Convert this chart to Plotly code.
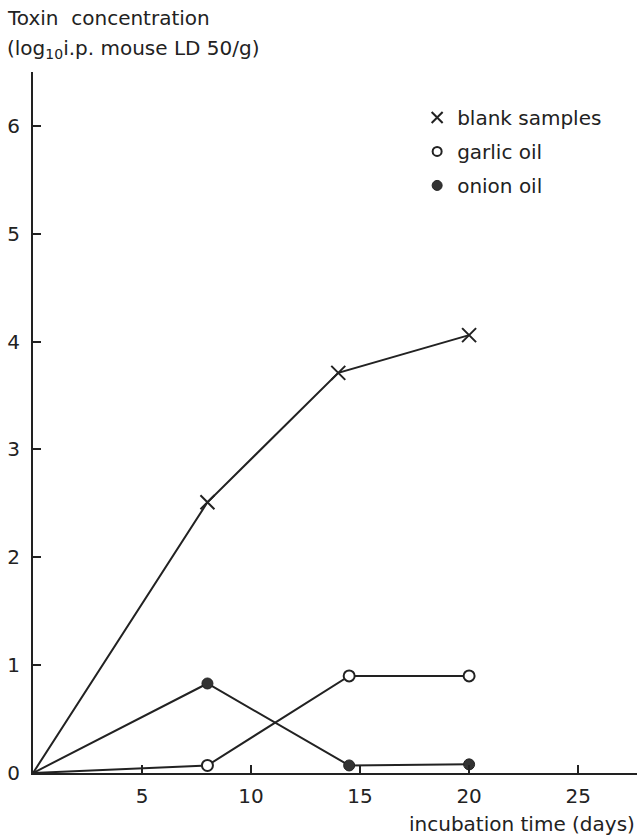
import plotly.graph_objects as go

# Data
blank_days = [0, 8, 14, 20]
blank_tox = [0.0, 2.51, 3.71, 4.06]
garlic_days = [0, 8, 14.5, 20]
garlic_tox = [0.0, 0.07, 0.90, 0.90]
onion_days = [0, 8, 14.5, 20]
onion_tox = [0.0, 0.83, 0.07, 0.08]

x_ticks = [5, 10, 15, 20, 25]
y_ticks = [0, 1, 2, 3, 4, 5, 6]

INK = "#222222"
FONT = "DejaVu Sans"

# origin point drawn without a marker, as in the reference
def sizes(n, s):
    return [0] + [s] * (n - 1)

fig = go.Figure()

fig.add_trace(go.Scatter(x=blank_days, y=blank_tox, mode="lines+markers",
                         line=dict(color=INK, width=2),
                         marker=dict(symbol="x-thin", size=sizes(len(blank_days), 14),
                                     opacity=1, line=dict(color=INK, width=2)),
                         showlegend=False, cliponaxis=False))
fig.add_trace(go.Scatter(x=garlic_days, y=garlic_tox, mode="lines+markers",
                         line=dict(color=INK, width=2),
                         marker=dict(symbol="circle", size=sizes(len(garlic_days), 11),
                                     opacity=1, color="white", line=dict(color=INK, width=2)),
                         showlegend=False, cliponaxis=False))
fig.add_trace(go.Scatter(x=onion_days, y=onion_tox, mode="lines+markers",
                         line=dict(color=INK, width=2),
                         marker=dict(symbol="circle", size=sizes(len(onion_days), 11),
                                     opacity=1, color="#333333", line=dict(color=INK, width=1)),
                         showlegend=False, cliponaxis=False))

# legend entries (markers only)
fig.add_trace(go.Scatter(x=[None], y=[None], mode="markers", name="blank samples",
                         legendgroup="a",
                         marker=dict(symbol="x-thin", size=11, line=dict(color=INK, width=2))))
fig.add_trace(go.Scatter(x=[None], y=[None], mode="markers", name="garlic oil",
                         legendgroup="b",
                         marker=dict(symbol="circle", size=9, color="white",
                                     line=dict(color=INK, width=2))))
fig.add_trace(go.Scatter(x=[None], y=[None], mode="markers", name="onion oil",
                         legendgroup="c",
                         marker=dict(symbol="circle", size=10, color="#333333",
                                     line=dict(color=INK, width=1))))

fig.update_layout(
    width=639, height=836,
    margin=dict(l=33, r=2, t=72, b=63),
    paper_bgcolor="white", plot_bgcolor="white",
    font=dict(family=FONT, size=20, color=INK),
    legend=dict(x=0.636, y=0.963, xanchor="left", yanchor="top",
                font=dict(family=FONT, size=20, color=INK),
                traceorder="grouped", tracegroupgap=5,
                bgcolor="rgba(0,0,0,0)", itemwidth=30),
    xaxis=dict(range=[0, 27.7], tickvals=x_ticks, ticks="inside", ticklen=8,
               tickwidth=1.5, tickcolor=INK, showline=True, linecolor=INK, linewidth=2,
               showgrid=False, zeroline=False, tickfont=dict(size=20),
               automargin=False, ticklabelstandoff=4),
    yaxis=dict(range=[0, 6.5], tickvals=y_ticks, ticks="inside", ticklen=8,
               tickwidth=1.5, tickcolor=INK, showline=True, linecolor=INK, linewidth=2,
               showgrid=False, zeroline=False, tickfont=dict(size=20),
               automargin=False, ticklabelstandoff=7),
    annotations=[
        dict(text="Toxin  concentration", xref="paper", yref="paper",
             x=-0.047, y=1.0, xanchor="left", yanchor="bottom", yshift=40,
             showarrow=False, font=dict(size=20)),
        dict(text="(log<sub>10</sub>i.p. mouse LD 50/g)", xref="paper", yref="paper",
             x=-0.047, y=1.0, xanchor="left", yanchor="bottom", yshift=8,
             showarrow=False, font=dict(size=20)),
        dict(text="incubation time (days)", xref="paper", yref="paper",
             x=1.0, y=0, xanchor="right", yanchor="top", yshift=-37,
             showarrow=False, font=dict(size=20)),
    ],
)

fig.write_html("out.html", post_script="document.body.style.margin='0';",
               config={"displayModeBar": False})
